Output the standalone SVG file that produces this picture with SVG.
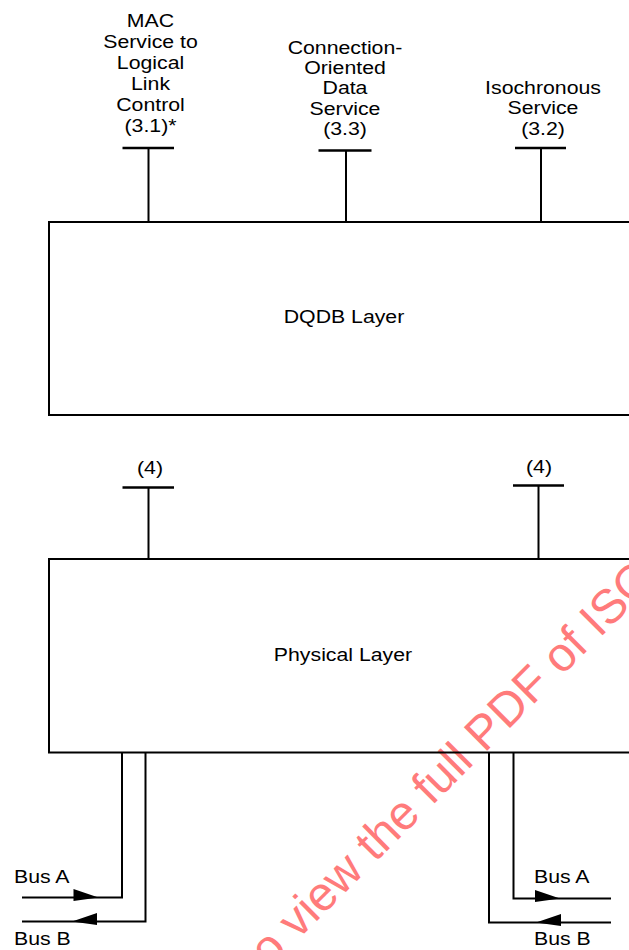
<svg xmlns="http://www.w3.org/2000/svg" width="629" height="950" viewBox="0 0 629 950">
<style>
.t{font-family:"Liberation Sans",Arial,Helvetica,sans-serif;font-size:18.5px;fill:#000;text-anchor:middle}
.s{text-anchor:start}
.ln{fill:none;stroke:#000;stroke-width:2}
.bar{fill:none;stroke:#000;stroke-width:2.5}
.wm{font-family:"Liberation Sans",Arial,Helvetica,sans-serif;font-size:48px;fill:#ff7b7b}
</style>
<defs>
<path id="ah" d="M0,0 L-25,-8.5 L-25,3.5 Z" fill="#000"/>
</defs>
<text class="wm" transform="translate(260 978) rotate(-45)">to view the full PDF of ISO</text>

<g id="dqdb">
<path class="ln" d="M640,222 H49 V415 H640"/>
<text class="t" transform="translate(344 323) scale(1.15 1)">DQDB Layer</text>
</g>
<g id="physical">
<path class="ln" d="M640,559 H49 V752.5 H640"/>
<text class="t" transform="translate(343 660.5) scale(1.15 1)">Physical Layer</text>
</g>

<g id="sap-mac">
<text class="t" transform="translate(150.5 27) scale(1.15 1)"><tspan x="0" y="0">MAC</tspan><tspan x="0" y="21">Service to</tspan><tspan x="0" y="42">Logical</tspan><tspan x="0" y="63">Link</tspan><tspan x="0" y="84">Control</tspan><tspan x="0" y="105">(3.1)*</tspan></text>
<line class="bar" x1="122.5" y1="148" x2="174" y2="148"/>
<line class="ln" x1="148.5" y1="148" x2="148.5" y2="222"/>
</g>
<g id="sap-codata">
<text class="t" transform="translate(345 53.5) scale(1.15 1)"><tspan x="0" y="0">Connection-</tspan><tspan x="0" y="20.5">Oriented</tspan><tspan x="0" y="41">Data</tspan><tspan x="0" y="61.5">Service</tspan><tspan x="0" y="82">(3.3)</tspan></text>
<line class="bar" x1="318.5" y1="150.5" x2="371.5" y2="150.5"/>
<line class="ln" x1="346" y1="150.5" x2="346" y2="222"/>
</g>
<g id="sap-iso">
<text class="t" transform="translate(543 94) scale(1.15 1)"><tspan x="0" y="0">Isochronous</tspan><tspan x="0" y="20.5">Service</tspan><tspan x="0" y="41">(3.2)</tspan></text>
<line class="bar" x1="515" y1="148" x2="566" y2="148"/>
<line class="ln" x1="541" y1="148" x2="541" y2="222"/>
</g>
<g id="sap-phy-left">
<text class="t" transform="translate(150 474) scale(1.15 1)">(4)</text>
<line class="bar" x1="122.5" y1="487.5" x2="174" y2="487.5"/>
<line class="ln" x1="148.5" y1="487.5" x2="148.5" y2="559"/>
</g>
<g id="sap-phy-right">
<text class="t" transform="translate(539 472.5) scale(1.15 1)">(4)</text>
<line class="bar" x1="513" y1="485.5" x2="564" y2="485.5"/>
<line class="ln" x1="538.5" y1="485.5" x2="538.5" y2="559"/>
</g>

<g id="connectors">
<path class="ln" d="M22,897.5 H122 V752.5"/>
<path class="ln" d="M22,921.5 H145.5 V752.5"/>
<path class="ln" d="M611,898.5 H513.5 V752.5"/>
<path class="ln" d="M611,922.5 H489 V752.5"/>
<use href="#ah" transform="translate(98.5 897.5)"/>
<use href="#ah" transform="translate(72 921.5) scale(-1 1)"/>
<use href="#ah" transform="translate(560 898.5)"/>
<use href="#ah" transform="translate(536 922.5) scale(-1 1)"/>
</g>

<g id="bus-labels">
<text class="t s" transform="translate(14 883) scale(1.15 1)">Bus A</text>
<text class="t s" transform="translate(14 945) scale(1.15 1)">Bus B</text>
<text class="t s" transform="translate(534 883) scale(1.15 1)">Bus A</text>
<text class="t s" transform="translate(534 944.5) scale(1.15 1)">Bus B</text>
</g>
</svg>
